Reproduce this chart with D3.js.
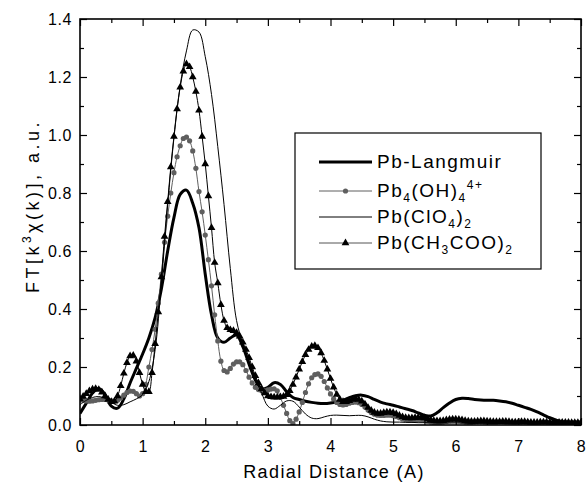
<!DOCTYPE html>
<html>
<head>
<meta charset="utf-8">
<script src="https://cdn.jsdelivr.net/npm/d3@7"></script>
<style>
  body { margin: 0; background: #fff; }
  text { font-family: "Liberation Sans", Arial, sans-serif; fill: #000; }
</style>
</head>
<body>
<svg id="chart" width="587" height="484"></svg>
<script>
// radial grids (A)
var rFine = d3.range(0, 161).map(function(i){ return i * 0.05; });
var rCoarse = d3.range(0, 81).map(function(i){ return i * 0.1; });

// Pb-Langmuir, read every 0.1 A
var langmuir = [0.040,0.075,0.110,0.126,0.105,0.065,0.058,0.090,0.145,0.195,
  0.245,0.300,0.370,0.470,0.600,0.715,0.795,0.810,0.765,0.680,
  0.520,0.380,0.300,0.285,0.300,0.310,0.270,0.210,0.155,0.125,
  0.130,0.146,0.140,0.115,0.095,0.088,0.082,0.078,0.075,0.074,
  0.076,0.080,0.086,0.094,0.101,0.103,0.098,0.088,0.079,0.073,
  0.068,0.062,0.056,0.050,0.042,0.034,0.031,0.042,0.060,0.076,
  0.088,0.092,0.091,0.088,0.086,0.085,0.085,0.083,0.080,0.075,
  0.068,0.061,0.054,0.045,0.035,0.025,0.017,0.012,0.010,0.010,0.010];

// Pb(ClO4)2, every 0.1 A
var perchlorate = [0.070,0.085,0.095,0.098,0.092,0.078,0.068,0.070,0.080,0.090,
  0.105,0.150,0.260,0.490,0.760,0.990,1.170,1.290,1.362,1.355,
  1.270,1.140,0.960,0.760,0.540,0.360,0.280,0.220,0.160,0.110,
  0.065,0.055,0.068,0.083,0.082,0.062,0.038,0.024,0.022,0.028,
  0.033,0.034,0.033,0.032,0.033,0.033,0.028,0.020,0.014,0.011,
  0.010,0.010,0.009,0.009,0.008,0.008,0.008,0.007,0.007,0.007,
  0.007,0.007,0.006,0.006,0.006,0.006,0.006,0.006,0.006,0.006,
  0.006,0.006,0.006,0.006,0.006,0.006,0.006,0.006,0.006,0.006,0.006];

// Pb4(OH)4 4+, every 0.05 A
var hydroxo = [0.086,0.085,0.083,0.082,0.083,0.085,0.087,0.088,0.088,0.086,
  0.083,0.082,0.085,0.093,0.103,0.112,0.117,0.116,0.108,0.100,
  0.108,0.140,0.200,0.260,0.330,0.420,0.520,0.630,0.720,0.800,
  0.870,0.925,0.963,0.988,0.993,0.980,0.945,0.885,0.805,0.735,
  0.655,0.570,0.480,0.380,0.290,0.220,0.188,0.183,0.195,0.210,
  0.218,0.218,0.208,0.188,0.165,0.145,0.130,0.122,0.118,0.118,
  0.121,0.124,0.125,0.118,0.095,0.068,0.040,0.015,0.005,0.020,
  0.045,0.078,0.112,0.142,0.163,0.174,0.176,0.168,0.150,0.128,
  0.107,0.090,0.078,0.071,0.069,0.071,0.075,0.078,0.079,0.077,
  0.071,0.062,0.052,0.043,0.037,0.034,0.033,0.033,0.034,0.034,
  0.032,0.029,0.025,0.021,0.018,0.016,0.016,0.017,0.018,0.018,
  0.016,0.013,0.010,0.008,0.007,0.008,0.010,0.012,0.014,0.015,
  0.015,0.014,0.012,0.010,0.009,0.009,0.010,0.011,0.011,0.010,
  0.009,0.008,0.008,0.009,0.010,0.010,0.009,0.008,0.007,0.007,
  0.008,0.009,0.009,0.008,0.007,0.006,0.006,0.007,0.008,0.008,
  0.007,0.006,0.006,0.006,0.007,0.007,0.007,0.006,0.006,0.006,0.006];

// Pb(CH3COO)2, every 0.05 A
var acetate = [0.090,0.098,0.108,0.117,0.123,0.125,0.122,0.113,0.100,0.088,
  0.080,0.082,0.100,0.135,0.178,0.215,0.238,0.240,0.220,0.180,
  0.140,0.115,0.115,0.180,0.280,0.390,0.510,0.650,0.770,0.890,
  0.995,1.090,1.165,1.220,1.245,1.235,1.200,1.150,1.085,0.995,
  0.900,0.790,0.680,0.560,0.490,0.415,0.360,0.335,0.328,0.325,
  0.318,0.306,0.285,0.260,0.232,0.200,0.170,0.145,0.125,0.110,
  0.100,0.097,0.096,0.096,0.097,0.098,0.104,0.118,0.140,0.165,
  0.192,0.218,0.242,0.260,0.271,0.273,0.266,0.248,0.222,0.192,
  0.160,0.130,0.105,0.088,0.080,0.080,0.084,0.088,0.090,0.088,
  0.082,0.072,0.060,0.050,0.043,0.040,0.040,0.042,0.044,0.044,
  0.042,0.038,0.033,0.028,0.025,0.024,0.024,0.025,0.026,0.026,
  0.024,0.021,0.018,0.015,0.014,0.014,0.015,0.017,0.019,0.020,
  0.020,0.019,0.017,0.015,0.013,0.012,0.012,0.013,0.014,0.014,
  0.013,0.012,0.011,0.011,0.011,0.012,0.012,0.011,0.010,0.010,
  0.010,0.011,0.011,0.010,0.009,0.009,0.009,0.010,0.010,0.010,
  0.009,0.009,0.009,0.009,0.009,0.009,0.009,0.008,0.008,0.008,0.008];

var xTicks = [0,1,2,3,4,5,6,7,8];
var yTicks = [0.0,0.2,0.4,0.6,0.8,1.0,1.2,1.4];

var svg = d3.select("#chart");
var x = d3.scaleLinear().domain([0, 8]).range([80, 581]);
var y = d3.scaleLinear().domain([0, 1.4]).range([425, 19]);

function pts(rs, vs){ return vs.map(function(v,i){ return [rs[i], v]; }); }

var line = d3.line()
  .x(function(d){ return x(d[0]); })
  .y(function(d){ return y(d[1]); })
  .curve(d3.curveCatmullRom.alpha(0.5));

// clip to frame
svg.append("clipPath").attr("id","clip").append("rect")
  .attr("x",80).attr("y",19).attr("width",501).attr("height",406);
var plot = svg.append("g").attr("clip-path","url(#clip)");

plot.append("path").datum(pts(rCoarse, langmuir))
  .attr("d", line).attr("fill","none").attr("stroke","#000").attr("stroke-width",3);

plot.append("path").datum(pts(rFine, hydroxo))
  .attr("d", line).attr("fill","none").attr("stroke","#5f5f5f").attr("stroke-width",1);
plot.selectAll("circle.oh").data(pts(rFine, hydroxo)).enter().append("circle")
  .attr("class","oh")
  .attr("cx", function(d){ return x(d[0]); })
  .attr("cy", function(d){ return y(d[1]); })
  .attr("r", 2.6).attr("fill","#5f5f5f");

plot.append("path").datum(pts(rCoarse, perchlorate))
  .attr("d", line).attr("fill","none").attr("stroke","#000").attr("stroke-width",1);

var tri = d3.symbol().type(d3.symbolTriangle).size(26);
plot.append("path").datum(pts(rFine, acetate))
  .attr("d", line).attr("fill","none").attr("stroke","#000").attr("stroke-width",1);
plot.selectAll("path.ac").data(pts(rFine, acetate)).enter().append("path")
  .attr("class","ac")
  .attr("d", tri)
  .attr("transform", function(d){ return "translate(" + x(d[0]) + "," + y(d[1]) + ")"; })
  .attr("fill","#000");

// axes, ticks inside on all four sides
var minorXv = d3.range(0, 8).map(function(i){ return i + 0.5; });
var minorYv = d3.range(0, 7).map(function(i){ return i*0.2 + 0.1; });

var fmtY = d3.format(".1f");
svg.append("g").attr("transform","translate(0,425)")
  .call(d3.axisBottom(x).tickValues(xTicks).tickSize(-7).tickPadding(16).tickFormat(d3.format("d")));
svg.append("g").attr("transform","translate(0,425)")
  .call(d3.axisBottom(x).tickValues(minorXv).tickSize(-4).tickFormat(""));
svg.append("g").attr("transform","translate(0,19)")
  .call(d3.axisTop(x).tickValues(xTicks).tickSize(-7).tickFormat(""));
svg.append("g").attr("transform","translate(0,19)")
  .call(d3.axisTop(x).tickValues(minorXv).tickSize(-4).tickFormat(""));

svg.append("g").attr("transform","translate(80,0)")
  .call(d3.axisLeft(y).tickValues(yTicks).tickSize(-7).tickPadding(8).tickFormat(fmtY));
svg.append("g").attr("transform","translate(80,0)")
  .call(d3.axisLeft(y).tickValues(minorYv).tickSize(-4).tickFormat(""));
svg.append("g").attr("transform","translate(581,0)")
  .call(d3.axisRight(y).tickValues(yTicks).tickSize(-7).tickFormat(""));
svg.append("g").attr("transform","translate(581,0)")
  .call(d3.axisRight(y).tickValues(minorYv).tickSize(-4).tickFormat(""));

svg.selectAll(".domain").remove();
svg.selectAll(".tick line").attr("stroke","#000").attr("stroke-width",1.2);
svg.selectAll(".tick text").style("font-family","'Liberation Sans', Arial, sans-serif")
  .style("font-size","16px").style("letter-spacing","0.6px").attr("fill","#000");

svg.append("rect").attr("x",80).attr("y",19).attr("width",501).attr("height",406)
  .attr("fill","none").attr("stroke","#000").attr("stroke-width",1.6);

// axis titles
svg.append("text").attr("x",334).attr("y",478).attr("text-anchor","middle")
  .style("font-size","18px").style("letter-spacing","1.4px").text("Radial Distance (A)");

var yt = svg.append("text").attr("transform","translate(39,206) rotate(-90)")
  .attr("text-anchor","middle").style("font-size","18px").style("letter-spacing","3.5px");
yt.append("tspan").text("FT[k");
yt.append("tspan").attr("dy",-8).style("font-size","12px").text("3");
yt.append("tspan").attr("dy",8).text("\u03c7(k)], a.u.");

// legend
var lg = svg.append("g");
lg.append("rect").attr("x",295).attr("y",133).attr("width",246).attr("height",136)
  .attr("fill","#fff").attr("stroke","#000").attr("stroke-width",1.2);

var legendY = [162, 191, 217, 243];
var lx0 = 319, lx1 = 372, tx = 377;

lg.append("line").attr("x1",lx0).attr("x2",lx1).attr("y1",legendY[0]).attr("y2",legendY[0])
  .attr("stroke","#000").attr("stroke-width",3);
lg.append("line").attr("x1",lx0).attr("x2",lx1).attr("y1",legendY[1]).attr("y2",legendY[1])
  .attr("stroke","#5f5f5f").attr("stroke-width",1);
lg.append("circle").attr("cx",(lx0+lx1)/2).attr("cy",legendY[1]).attr("r",2.6).attr("fill","#5f5f5f");
lg.append("line").attr("x1",lx0).attr("x2",lx1).attr("y1",legendY[2]).attr("y2",legendY[2])
  .attr("stroke","#000").attr("stroke-width",1);
lg.append("line").attr("x1",lx0).attr("x2",lx1).attr("y1",legendY[3]).attr("y2",legendY[3])
  .attr("stroke","#555").attr("stroke-width",1);
lg.append("path").attr("d", tri).attr("transform","translate(" + ((lx0+lx1)/2) + "," + legendY[3] + ")").attr("fill","#000");

function legendText(yy, parts){
  var t = lg.append("text").attr("x",tx).attr("y",yy+6).style("font-size","19px").style("letter-spacing","1.5px");
  parts.forEach(function(p){
    var s = t.append("tspan").text(p[0]);
    if (p[1] === "sub") s.attr("dy",5).style("font-size","12px");
    else if (p[1] === "sup") s.attr("dy",-13).style("font-size","12px");
    else if (p[1] === "back") s.attr("dy",-5);
  });
}
legendText(legendY[0], [["Pb-Langmuir"]]);
legendText(legendY[1], [["Pb"],["4","sub"],["(OH)","back"],["4","sub"],["4+","sup"]]);
legendText(legendY[2], [["Pb(ClO"],["4","sub"],[")","back"],["2","sub"]]);
legendText(legendY[3], [["Pb(CH"],["3","sub"],["COO)","back"],["2","sub"]]);
</script>
</body>
</html>
